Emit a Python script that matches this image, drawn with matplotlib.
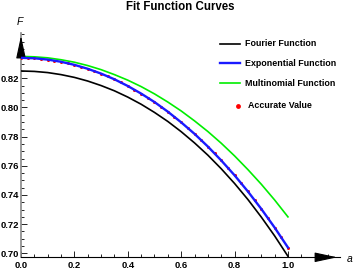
import matplotlib
matplotlib.use("Agg")
import matplotlib.pyplot as plt
from matplotlib.lines import Line2D
from matplotlib.ticker import MultipleLocator, FormatStrFormatter

# values
a_vals = [0.00, 0.05, 0.10, 0.15, 0.20, 0.25, 0.30, 0.35, 0.40, 0.45, 0.50,
          0.55, 0.60, 0.65, 0.70, 0.75, 0.80, 0.85, 0.90, 0.95, 1.00]
fourier = [0.8250, 0.8247, 0.8239, 0.8225, 0.8206, 0.8181, 0.8150, 0.8114,
           0.8071, 0.8022, 0.7966, 0.7904, 0.7834, 0.7757, 0.7673, 0.7580,
           0.7479, 0.7369, 0.7249, 0.7120, 0.6980]
exponential = [0.8340, 0.8337, 0.8328, 0.8313, 0.8292, 0.8265, 0.8232, 0.8193,
               0.8147, 0.8095, 0.8037, 0.7971, 0.7898, 0.7819, 0.7732, 0.7637,
               0.7535, 0.7424, 0.7305, 0.7177, 0.7040]
multinomial = [0.8350, 0.8347, 0.8340, 0.8327, 0.8310, 0.8287, 0.8259, 0.8225,
               0.8187, 0.8143, 0.8093, 0.8037, 0.7976, 0.7908, 0.7835, 0.7755,
               0.7668, 0.7574, 0.7474, 0.7366, 0.7250]

acc_a = [0.000, 0.025, 0.050, 0.075, 0.100, 0.125, 0.150, 0.175, 0.200, 0.225,
         0.250, 0.275, 0.300, 0.325, 0.350, 0.375, 0.400, 0.425, 0.450, 0.475,
         0.500, 0.525, 0.550, 0.575, 0.600, 0.625, 0.650, 0.675, 0.700, 0.725,
         0.750, 0.775, 0.800, 0.825, 0.850, 0.875, 0.900, 0.925, 0.950, 0.975,
         1.000]
accurate = [0.8340, 0.8339, 0.8337, 0.8333, 0.8328, 0.8321, 0.8313, 0.8304,
            0.8292, 0.8280, 0.8265, 0.8250, 0.8232, 0.8214, 0.8193, 0.8171,
            0.8147, 0.8122, 0.8095, 0.8067, 0.8037, 0.8005, 0.7971, 0.7936,
            0.7898, 0.7860, 0.7819, 0.7776, 0.7732, 0.7685, 0.7637, 0.7587,
            0.7535, 0.7480, 0.7424, 0.7365, 0.7305, 0.7242, 0.7177, 0.7110,
            0.7040]

plt.rcParams['font.family'] = ['Liberation Sans', 'DejaVu Sans']

fig = plt.figure(figsize=(3.54, 2.73), dpi=100)
ax = fig.add_axes([0.0593, 0.0575, 0.9012, 0.8215])

ax.plot(a_vals, fourier, color='black', lw=1.2, zorder=3)
ax.plot(acc_a, accurate, 'o', color='red', ms=2.2, mec='none', zorder=3.5)
ax.plot(a_vals, exponential, color='#1a1aff', lw=1.7, zorder=4)
ax.plot(a_vals, multinomial, color='#00ee00', lw=1.2, zorder=3)

ax.set_xlim(0, 1.195)
ax.set_ylim(0.6973, 0.851)

for s in ['top', 'right']:
    ax.spines[s].set_visible(False)
ax.spines['left'].set_color('#888888')
ax.spines['left'].set_linewidth(1.2)
ax.spines['bottom'].set_linewidth(0.8)

ax.xaxis.set_minor_locator(MultipleLocator(0.05))
ax.yaxis.set_minor_locator(MultipleLocator(0.005))
ax.set_xticks([0.0, 0.2, 0.4, 0.6, 0.8, 1.0])
ax.set_yticks([0.70, 0.72, 0.74, 0.76, 0.78, 0.80, 0.82])
ax.xaxis.set_major_formatter(FormatStrFormatter('%.1f'))
ax.yaxis.set_major_formatter(FormatStrFormatter('%.2f'))
ax.tick_params(which='both', direction='in', width=0.6)
ax.tick_params(which='major', length=4, labelsize=6.8)
ax.tick_params(which='minor', length=2)
ax.tick_params(axis='y', pad=1.5)
ax.tick_params(axis='x', pad=3)
for lab in ax.get_xticklabels() + ax.get_yticklabels():
    lab.set_fontweight('bold')

# arrow heads on the axes
ax.annotate('', xy=(1.0, 0), xytext=(0.94, 0), xycoords='axes fraction',
            arrowprops=dict(arrowstyle='-|>,head_length=1.4,head_width=0.3',
                            color='black', lw=0.8), annotation_clip=False)
ax.annotate('', xy=(0, 1.0), xytext=(0, 0.92), xycoords='axes fraction',
            arrowprops=dict(arrowstyle='-|>,head_length=1.4,head_width=0.3',
                            color='black', lw=0.8), annotation_clip=False)

fig.text(20 / 354, 1 - 22 / 273, 'F', style='italic', fontsize=7.5,
         ha='center', va='center')
fig.text(350 / 354, 1 - 259 / 273, 'a', style='italic', fontsize=7.5,
         ha='center', va='center')
fig.text(180 / 354, 1 - 7 / 273, 'Fit Function Curves', fontsize=8.3,
         fontweight='bold', ha='center', va='center')

# legend
legend_rows = [('Fourier Function', 'black', 1.2, 44),
               ('Exponential Function', '#1a1aff', 1.7, 63),
               ('Multinomial Function', '#00ee00', 1.2, 83)]
for label, col, lw, ypx in legend_rows:
    yf = 1 - ypx / 273
    fig.add_artist(Line2D([220 / 354, 240 / 354], [yf, yf], color=col, lw=lw))
    fig.text(245 / 354, yf, label, fontsize=6.4, fontweight='bold',
             va='center', ha='left')
yf = 1 - 106 / 273
fig.add_artist(Line2D([238 / 354], [yf], marker='o', color='red', ms=3.5,
                      mec='none'))
fig.text(248 / 354, yf, 'Accurate Value', fontsize=6.4, fontweight='bold',
         va='center', ha='left')

fig.savefig('out.png', dpi=100)
